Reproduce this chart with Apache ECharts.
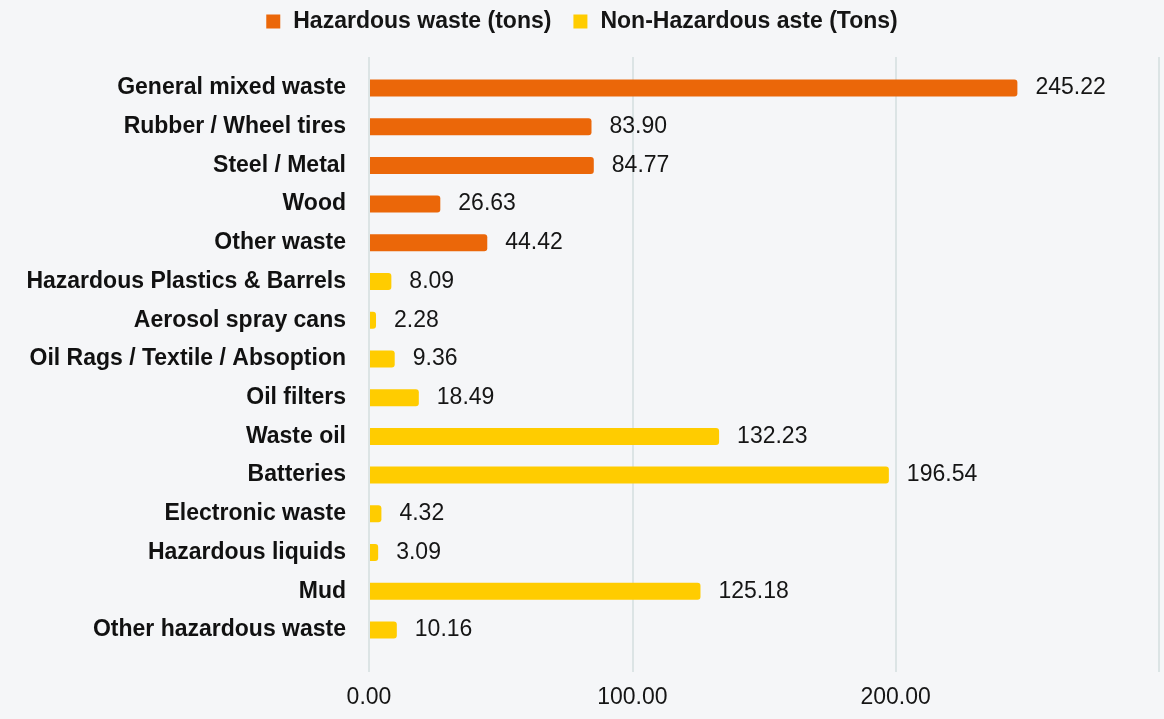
<!DOCTYPE html>
<html>
<head>
<meta charset="utf-8">
<script src="https://cdn.jsdelivr.net/npm/echarts@6/dist/echarts.min.js"></script>
<style>
html,body{margin:0;padding:0;background:#f5f6f8;}
#c{width:1164px;height:719px;}
</style>
</head>
<body>
<div id="c"></div>
<script>
var categories = ["General mixed waste","Rubber / Wheel tires","Steel / Metal","Wood","Other waste","Hazardous Plastics & Barrels","Aerosol spray cans","Oil Rags / Textile / Absoption","Oil filters","Waste oil","Batteries","Electronic waste","Hazardous liquids","Mud","Other hazardous waste"];
var hazardous = [245.22, 83.90, 84.77, 26.63, 44.42, '-', '-', '-', '-', '-', '-', '-', '-', '-', '-'];
var nonHazardous = ['-', '-', '-', '-', '-', 8.09, 2.28, 9.36, 18.49, 132.23, 196.54, 4.32, 3.09, 125.18, 10.16];
var seriesNames = ["Hazardous waste (tons)", "Non-Hazardous aste (Tons)"];
var xTicks = {min: 0, max: 300, interval: 100};

var FONT = '"Liberation Sans", Arial, Helvetica, sans-serif';
var chart = echarts.init(document.getElementById('c'));
var lbl = {
  show: true, position: 'right', distance: 18,
  fontSize: 23, color: '#151515', fontFamily: FONT, padding: [4, 0, 0, 0],
  formatter: function (p) { return Number(p.value).toFixed(2); }
};
chart.setOption({
  backgroundColor: '#f5f6f8',
  animation: false,
  textStyle: {fontFamily: FONT},
  legend: {
    top: 5, left: 'center',
    itemWidth: 14, itemHeight: 14, itemGap: 22,
    icon: 'rect',
    textStyle: {fontSize: 23, fontWeight: 'bold', color: '#151515', fontFamily: FONT, padding: [0, 0, 0, 8]},
    data: seriesNames
  },
  grid: [
    {left: 370, width: 792, top: 68.6, height: 580.7, containLabel: false},
    {left: 369, width: 790, top: 57, height: 615, containLabel: false}
  ],
  xAxis: [
    {gridIndex: 0, type: 'value', min: xTicks.min, max: xTicks.max, interval: xTicks.interval, show: false},
    {gridIndex: 1, type: 'value', min: xTicks.min, max: xTicks.max, interval: xTicks.interval,
     axisLine: {show: false}, axisTick: {show: false},
     splitLine: {show: true, lineStyle: {color: '#d3dedf', width: 1.5}},
     axisLabel: {showMaxLabel: false, fontSize: 23, color: '#151515', margin: 14, fontFamily: FONT,
       formatter: function (v) { return v.toFixed(2); }}}
  ],
  yAxis: [
    {gridIndex: 0, type: 'category', inverse: true, data: categories,
     axisLine: {show: false}, axisTick: {show: false}, splitLine: {show: false},
     axisLabel: {fontSize: 23, fontWeight: 'bold', color: '#111111', margin: 24, fontFamily: FONT, padding: [4, 0, 0, 0]}},
    {gridIndex: 1, type: 'value', show: false}
  ],
  series: [
    {name: seriesNames[0], type: 'bar', stack: 'w', xAxisIndex: 0, yAxisIndex: 0,
     data: hazardous, barWidth: 17, itemStyle: {color: '#eb6709', borderRadius: [0, 3, 3, 0]}, label: lbl},
    {name: seriesNames[1], type: 'bar', stack: 'w', xAxisIndex: 0, yAxisIndex: 0,
     data: nonHazardous, barWidth: 17, itemStyle: {color: '#ffcc00', borderRadius: [0, 3, 3, 0]}, label: lbl}
  ]
});
</script>
</body>
</html>
